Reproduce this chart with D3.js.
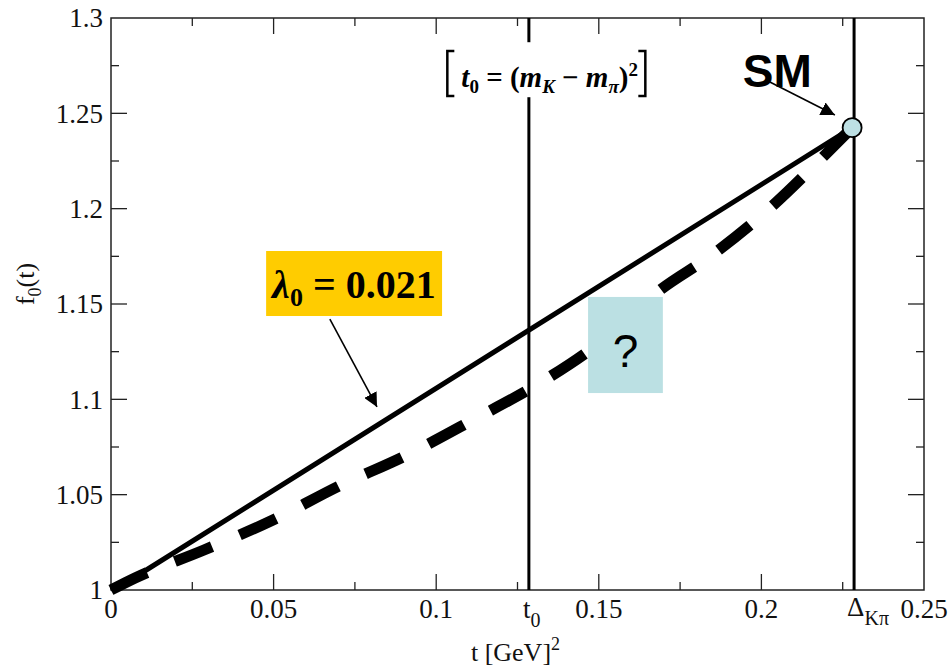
<!DOCTYPE html>
<html>
<head>
<meta charset="utf-8">
<script src="https://cdn.jsdelivr.net/npm/d3@7"></script>
<style>
  body { margin: 0; background: #fff; }
</style>
</head>
<body>
<div id="chart"></div>
<script>
// Axis ticks
const xMajor = [0, 0.05, 0.1, 0.15, 0.2, 0.25];
const xMinor = [0.025, 0.075, 0.125, 0.175, 0.225];
const yMajor = [1, 1.05, 1.1, 1.15, 1.2, 1.25, 1.3];
const yMinor = [1.025, 1.075, 1.125, 1.175, 1.225, 1.275];

// special abscissae
const t0 = 0.1285;
const deltaKpi = 0.2285;

// linear parametrisation (lambda_0 = 0.021)
const solidT = [0, 0.0089, 0.2279];
const solidF = [1, 1.0084, 1.2425];

// dashed curve
const dashT = [0, 0.0074, 0.0286, 0.0498, 0.0701, 0.091, 0.1113, 0.1313, 0.1505, 0.1688, 0.1848, 0.203, 0.2192, 0.2279];
const dashF = [1, 1.0063, 1.021, 1.0367, 1.0545, 1.0708, 1.0892, 1.108, 1.1300, 1.1573, 1.1757, 1.2009, 1.2276, 1.2425];

// SM point
const smT = 0.2279, smF = 1.2425;

const serif = "'Liberation Serif', 'Times New Roman', serif";
const sans = "'Liberation Sans', Arial, sans-serif";

const width = 952, height = 666;
const margin = {top: 18, right: 28, bottom: 76, left: 111};
const w = width - margin.left - margin.right;
const h = height - margin.top - margin.bottom;

const svg = d3.select("#chart").append("svg")
    .attr("width", width)
    .attr("height", height)
    .style("font-family", serif);

svg.append("defs").append("marker")
    .attr("id", "head")
    .attr("viewBox", "0 0 10 10")
    .attr("refX", 10).attr("refY", 5)
    .attr("markerWidth", 14).attr("markerHeight", 14)
    .attr("markerUnits", "userSpaceOnUse")
    .attr("orient", "auto")
  .append("path")
    .attr("d", "M0,0 L10,5 L0,10 z")
    .attr("fill", "#000");

const g = svg.append("g").attr("transform", `translate(${margin.left},${margin.top})`);

const x = d3.scaleLinear().domain([0, 0.25]).range([0, w]);
const y = d3.scaleLinear().domain([1, 1.3]).range([h, 0]);

// frame
g.append("rect")
    .attr("width", w).attr("height", h)
    .attr("fill", "none").attr("stroke", "#222").attr("stroke-width", 1.5);

// ticks on all four sides (inward)
function ticks(vals, len) {
    vals.forEach(v => {
        g.append("line").attr("x1", x(v)).attr("x2", x(v)).attr("y1", h).attr("y2", h - len)
            .attr("stroke", "#222").attr("stroke-width", 1.3);
        g.append("line").attr("x1", x(v)).attr("x2", x(v)).attr("y1", 0).attr("y2", len)
            .attr("stroke", "#222").attr("stroke-width", 1.3);
    });
}
function yticks(vals, len) {
    vals.forEach(v => {
        g.append("line").attr("x1", 0).attr("x2", len).attr("y1", y(v)).attr("y2", y(v))
            .attr("stroke", "#222").attr("stroke-width", 1.3);
        g.append("line").attr("x1", w).attr("x2", w - len).attr("y1", y(v)).attr("y2", y(v))
            .attr("stroke", "#222").attr("stroke-width", 1.3);
    });
}
ticks(xMajor.slice(1, -1), 16);
ticks(xMinor, 8);
yticks(yMajor.slice(1, -1), 16);
yticks(yMinor, 8);

// tick labels
g.selectAll(".xl").data(xMajor).enter().append("text")
    .attr("x", d => x(d)).attr("y", h + 28)
    .attr("text-anchor", "middle")
    .attr("font-size", 27).attr("fill", "#111")
    .text(d => d3.format("")(d));

g.selectAll(".yl").data(yMajor).enter().append("text")
    .attr("x", -8).attr("y", d => y(d))
    .attr("dy", "0.35em")
    .attr("text-anchor", "end")
    .attr("font-size", 27).attr("fill", "#111")
    .text(d => d3.format("")(d));

// special x labels
const t0Label = g.append("text").attr("x", x(t0) - 6).attr("y", h + 28).attr("font-size", 27).attr("fill", "#111");
t0Label.append("tspan").text("t");
t0Label.append("tspan").attr("dy", 9).attr("font-size", 20).text("0");

const dLabel = g.append("text").attr("x", x(deltaKpi) - 7).attr("y", h + 26).attr("font-size", 27).attr("fill", "#111");
dLabel.append("tspan").text("Δ");
dLabel.append("tspan").attr("dy", 9).attr("font-size", 20).text("Kπ");

// axis titles
const xt = svg.append("text")
    .attr("x", margin.left + w / 2 - 2).attr("y", 661)
    .attr("text-anchor", "middle").attr("font-size", 26).attr("fill", "#111");
xt.append("tspan").text("t [GeV]");
xt.append("tspan").attr("dy", -11).attr("font-size", 18).text("2");

const yt = svg.append("text")
    .attr("transform", `translate(34,${margin.top + y(1.15) - 20}) rotate(-90)`)
    .attr("text-anchor", "middle").attr("font-size", 26).attr("fill", "#111");
yt.append("tspan").text("f");
yt.append("tspan").attr("dy", 7).attr("font-size", 18).text("0");
yt.append("tspan").attr("dy", -7).text("(t)");

// vertical lines at t0 and Delta
[t0, deltaKpi].forEach(v => {
    g.append("line").attr("x1", x(v)).attr("x2", x(v)).attr("y1", 0).attr("y2", h)
        .attr("stroke", "#000").attr("stroke-width", 3);
});

// curves
const line = d3.line().x(d => x(d[0])).y(d => y(d[1]));
const solidData = solidT.map((t, i) => [t, solidF[i]]);
const dashData = dashT.map((t, i) => [t, dashF[i]]);

g.append("path").datum(solidData)
    .attr("d", line)
    .attr("fill", "none").attr("stroke", "#000").attr("stroke-width", 5);

g.append("path").datum(dashData)
    .attr("d", d3.line().curve(d3.curveMonotoneX).x(d => x(d[0])).y(d => y(d[1])))
    .attr("fill", "none").attr("stroke", "#000").attr("stroke-width", 11)
    .attr("stroke-dasharray", "40,30");

// SM point
g.append("circle")
    .attr("cx", x(smT)).attr("cy", y(smF)).attr("r", 9.5)
    .attr("fill", "#bde0e4").attr("stroke", "#000").attr("stroke-width", 1.8);

// t0 formula label with white background
const eqX = x(0.1025), eqY = y(1.2638);
g.append("rect").attr("x", eqX).attr("y", y(1.2873)).attr("width", 205).attr("height", 55).attr("fill", "#fff");
g.append("path")
    .attr("d", `M${eqX + 10},${y(1.2827)} h-7 v45 h7`)
    .attr("fill", "none").attr("stroke", "#000").attr("stroke-width", 2.5);
g.append("path")
    .attr("d", `M${eqX + 194},${y(1.2827)} h7 v45 h-7`)
    .attr("fill", "none").attr("stroke", "#000").attr("stroke-width", 2.5);
const eq = g.append("text").attr("x", eqX + 17).attr("y", eqY)
    .attr("font-size", 29).attr("font-weight", "bold").attr("fill", "#000");
eq.append("tspan").attr("font-style", "italic").text("t");
eq.append("tspan").attr("dy", 6).attr("font-size", 19).text("0");
eq.append("tspan").attr("dy", -6).text(" = (");
eq.append("tspan").attr("font-style", "italic").text("m");
eq.append("tspan").attr("dy", 6).attr("font-size", 19).attr("font-style", "italic").text("K");
eq.append("tspan").attr("dy", -6).text(" − ");
eq.append("tspan").attr("font-style", "italic").text("m");
eq.append("tspan").attr("dy", 6).attr("font-size", 19).attr("font-style", "italic").text("π");
eq.append("tspan").attr("dy", -6).text(")");
eq.append("tspan").attr("dy", -11).attr("font-size", 19).text("2");

// SM label and arrow
g.append("text")
    .attr("x", x(0.1943)).attr("y", y(1.2638))
    .style("font-family", sans)
    .attr("font-size", 46).attr("font-weight", "bold").text("SM");
g.append("line")
    .attr("x1", x(0.2026)).attr("y1", y(1.2664))
    .attr("x2", x(0.2226)).attr("y2", y(1.2491))
    .attr("stroke", "#000").attr("stroke-width", 1.6)
    .attr("marker-end", "url(#head)");

// lambda_0 box and arrow
g.append("rect")
    .attr("x", x(0.0477)).attr("y", y(1.1778))
    .attr("width", x(0.1018) - x(0.0477)).attr("height", y(1.1437) - y(1.1778))
    .attr("fill", "#ffcc00");
const lam = g.append("text")
    .attr("x", x(0.0477) + 6).attr("y", y(1.1778) + 47)
    .attr("font-size", 40).attr("font-weight", "bold").attr("fill", "#000");
lam.append("tspan").attr("font-style", "italic").text("λ");
lam.append("tspan").attr("dy", 8).attr("font-size", 26).text("0");
lam.append("tspan").attr("dy", -8).text(" = 0.021");
g.append("line")
    .attr("x1", x(0.0673)).attr("y1", y(1.1421))
    .attr("x2", x(0.0818)).attr("y2", y(1.096))
    .attr("stroke", "#000").attr("stroke-width", 1.6)
    .attr("marker-end", "url(#head)");

// question box
g.append("rect")
    .attr("x", x(0.1467)).attr("y", y(1.1537))
    .attr("width", x(0.1697) - x(0.1467)).attr("height", y(1.1033) - y(1.1537))
    .attr("fill", "#bbe0e3");
g.append("text")
    .attr("x", (x(0.1467) + x(0.1697)) / 2).attr("y", y(1.1537) + 70)
    .attr("text-anchor", "middle")
    .style("font-family", sans)
    .attr("font-size", 46).attr("fill", "#000").text("?");
</script>
</body>
</html>
